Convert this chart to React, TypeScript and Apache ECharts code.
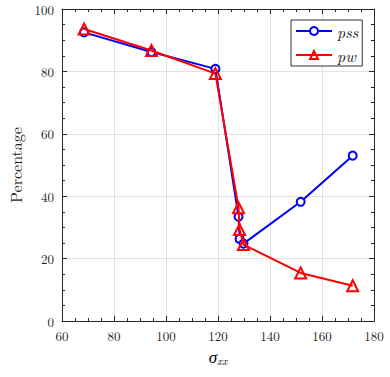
import React, { useEffect, useRef } from "react";
import * as echarts from "echarts";

const sigmaXX = [68.5, 94.4, 119, 127.9, 128.3, 129.8, 151.8, 171.8];
const pss = [92.5, 86.2, 80.8, 33.4, 26.3, 24.8, 38.2, 53];
const pw = [93.6, 86.7, 79.3, 36.3, 29.3, 24.5, 15.4, 11.3];
const xTicks = [60, 80, 100, 120, 140, 160, 180];
const yTicks = [0, 20, 40, 60, 80, 100];

const SERIF = "'Latin Modern Roman', 'Liberation Serif', 'DejaVu Serif', serif";
const AX = "#262626";

export default function App() {
  const ref = useRef<HTMLDivElement>(null);
  useEffect(() => {
    if (!ref.current) return;
    const chart = echarts.init(ref.current, undefined, { renderer: "svg" });
    const frameAxis = (show: boolean) => ({
      axisLine: { show: true, onZero: false, lineStyle: { color: AX, width: 1 } },
      axisTick: { show: true, inside: true, length: 5, lineStyle: { color: AX } },
      minorTick: { show: true, splitNumber: 4, length: 3, lineStyle: { color: AX } },
      axisLabel: {
        show,
        color: "#222",
        fontFamily: SERIF,
        fontSize: 13,
        margin: 8,
      },
    });
    chart.setOption({
      animation: false,
      backgroundColor: "#fff",
      grid: { left: 62, right: 16, top: 9, bottom: 56, containLabel: false },
      xAxis: [
        {
          type: "value",
          min: xTicks[0],
          max: xTicks[xTicks.length - 1],
          interval: 20,
          position: "bottom",
          ...frameAxis(true),
          splitLine: { show: true, lineStyle: { color: "#e2e2e2", width: 1 } },
        },
        {
          type: "value",
          min: xTicks[0],
          max: xTicks[xTicks.length - 1],
          interval: 20,
          position: "top",
          ...frameAxis(false),
          splitLine: { show: false },
        },
      ],
      yAxis: [
        {
          type: "value",
          min: yTicks[0],
          max: yTicks[yTicks.length - 1],
          interval: 20,
          position: "left",
          ...frameAxis(true),
          splitLine: { show: true, lineStyle: { color: "#e2e2e2", width: 1 } },
        },
        {
          type: "value",
          min: yTicks[0],
          max: yTicks[yTicks.length - 1],
          interval: 20,
          position: "right",
          ...frameAxis(false),
          splitLine: { show: false },
        },
      ],
      legend: {
        left: 291,
        top: 20,
        orient: "vertical",
        backgroundColor: "#fff",
        borderColor: "#333",
        borderWidth: 1,
        borderRadius: 0,
        padding: [3, 4, 3, 4],
        itemGap: 8,
        itemWidth: 36,
        itemHeight: 10,
        textStyle: { fontFamily: SERIF, fontStyle: "italic", fontSize: 16, color: "#111" },
        data: ["pss", "pw"],
      },
      series: [
        {
          name: "pss",
          type: "line",
          data: sigmaXX.map((x, i) => [x, pss[i]]),
          symbol: "circle",
          symbolSize: 8,
          showAllSymbol: true,
          lineStyle: { color: "#0000ff", width: 2 },
          itemStyle: { color: "#fff", borderColor: "#0000ff", borderWidth: 2 },
          color: "#0000ff",
          z: 2,
        },
        {
          name: "pw",
          type: "line",
          data: sigmaXX.map((x, i) => [x, pw[i]]),
          symbol: "triangle",
          symbolSize: 11,
          showAllSymbol: true,
          lineStyle: { color: "#ff0000", width: 2 },
          itemStyle: { color: "rgba(255,255,255,0)", borderColor: "#ff0000", borderWidth: 2 },
          color: "#ff0000",
          z: 3,
        },
      ],
      graphic: [
        {
          type: "text",
          x: 15,
          y: 165,
          rotation: Math.PI / 2,
          style: {
            text: "Percentage",
            font: `16px ${SERIF}`,
            fill: "#222",
            align: "center",
            verticalAlign: "middle",
          },
        },
        {
          type: "text",
          x: 218,
          y: 356,
          style: {
            text: "{a|σ}{b|xx}",
            align: "center",
            verticalAlign: "middle",
            rich: {
              a: { fontFamily: SERIF, fontStyle: "italic", fontSize: 17, color: "#222" },
              b: { fontFamily: SERIF, fontStyle: "italic", fontSize: 11, color: "#222", padding: [8, 0, 0, 0] },
            },
          },
        },
      ],
    });
    return () => chart.dispose();
  }, []);
  return (
    <div
      ref={ref}
      style={{ width: 390, height: 377, position: "fixed", left: 0, top: 0 }}
    />
  );
}
